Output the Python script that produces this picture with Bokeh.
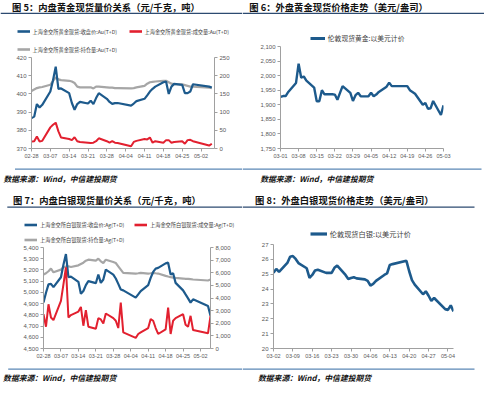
import pandas as pd
from bokeh.plotting import figure
from bokeh.models import (Range1d, LinearAxis, FixedTicker, SingleIntervalTicker,
                          DatetimeTickFormatter, NumeralTickFormatter, Legend,
                          LegendItem, Label, BoxAnnotation)
from bokeh.layouts import column, row
from bokeh.embed import file_html
from bokeh.resources import INLINE

# ---------------- data ----------------
dates_cn = ["2022-02-28", "2022-03-01", "2022-03-02", "2022-03-03", "2022-03-04",
            "2022-03-07", "2022-03-08", "2022-03-09", "2022-03-10", "2022-03-11",
            "2022-03-14", "2022-03-15", "2022-03-16", "2022-03-17", "2022-03-18",
            "2022-03-21", "2022-03-22", "2022-03-23", "2022-03-24", "2022-03-25",
            "2022-03-28", "2022-03-29", "2022-03-30", "2022-03-31", "2022-04-01",
            "2022-04-06", "2022-04-07", "2022-04-08",
            "2022-04-11", "2022-04-12", "2022-04-13", "2022-04-14", "2022-04-15",
            "2022-04-18", "2022-04-19", "2022-04-20", "2022-04-21", "2022-04-22",
            "2022-04-25", "2022-04-26", "2022-04-27", "2022-04-28", "2022-04-29",
            "2022-05-05", "2022-05-06"]

au_close = [386.7, 387.5, 394.4, 392.5, 394.0,
            401.3, 407.5, 415.0, 402.8, 403.0,
            400.4, 395.0, 391.3, 394.4, 395.6,
            394.7, 396.3, 394.4, 397.7, 400.4,
            397.3, 395.6, 394.5, 394.9, 395.0,
            393.6, 394.7, 396.0,
            397.3, 399.2, 401.3, 402.8, 404.0,
            406.4, 406.8, 400.0, 404.0, 405.5,
            405.0, 400.4, 400.4, 401.3, 405.3,
            404.0, 403.5]
au_volume = [19, 20, 33, 19, 21,
             58, 65, 71, 47, 30,
             26, 23, 31, 20, 18,
             16, 15, 16, 20, 28,
             20, 16, 20, 16, 15,
             6, 18, 21,
             26, 25, 30, 16, 20,
             16, 23, 23, 16, 18,
             20, 13, 23, 24, 20,
             8, 13]
au_hold = [158, 162, 166, 168, 169,
           175, 186, 195, 190, 188,
           186, 184, 180, 170, 168,
           168, 168, 165, 170, 170,
           168, 167, 167, 166, 166,
           165, 166, 168,
           172, 178, 182, 183, 184,
           186, 186, 182, 178, 177,
           176, 174, 172, 170, 170,
           167, 166]

ag_close = [4909, 4997, 5071, 5076, 5047,
            5135, 5247, 5341, 5135, 5141,
            5094, 4988, 5012, 5065, 5100,
            5082, 5159, 5085, 5115, 5203,
            5159, 5124, 5076, 5026, 5018,
            4953, 4982, 5012,
            5065, 5129, 5182, 5212, 5218,
            5259, 5265, 5159, 5171, 5085,
            5018, 4982, 4947, 4909, 4938,
            4879, 4791]
ag_volume = [2719, 1725, 3503, 2458, 2248,
             3765, 5072, 6431, 2458, 2650,
             2928, 3294, 1804, 3033, 1725,
             1569, 2405, 2300, 1987, 2771,
             2405, 2196, 1621, 3634, 1281,
             837, 1150, 1281,
             1621, 2327, 2196, 1621, 1150,
             1516, 3242, 1150, 2196, 2405,
             2719, 1882, 1725, 2588, 1464,
             1203, 2588]
ag_hold = [5856, 5960, 6118, 6327, 6039,
           6248, 6431, 6484, 6510, 6458,
           6588, 6693, 6797, 6954, 7033,
           6954, 7111, 6902, 6771, 7033,
           6850, 6771, 6510, 6248, 5987,
           5935, 5960, 5987,
           5935, 5960, 5987, 5960, 5935,
           5752, 5699, 5647, 5621, 5595,
           5542, 5516, 5516, 5490, 5464,
           5386, 5464]

dates_lon_au = ["2022-03-01", "2022-03-02", "2022-03-03", "2022-03-04",
                "2022-03-07", "2022-03-08", "2022-03-09", "2022-03-10", "2022-03-11",
                "2022-03-14", "2022-03-15", "2022-03-16", "2022-03-17", "2022-03-18",
                "2022-03-21", "2022-03-22", "2022-03-23", "2022-03-24", "2022-03-25",
                "2022-03-28", "2022-03-29", "2022-03-30", "2022-03-31", "2022-04-01",
                "2022-04-04", "2022-04-05", "2022-04-06", "2022-04-07", "2022-04-08",
                "2022-04-11", "2022-04-12", "2022-04-13", "2022-04-14",
                "2022-04-19", "2022-04-20", "2022-04-21", "2022-04-22",
                "2022-04-25", "2022-04-26", "2022-04-27", "2022-04-28", "2022-04-29",
                "2022-05-02", "2022-05-03"]
lon_gold = [1927, 1930, 1930, 1944,
            1975, 2041, 1993, 1997, 1983,
            1959, 1912, 1912, 1950, 1936,
            1936, 1935, 1917, 1941, 1964,
            1941, 1913, 1933, 1941, 1929,
            1929, 1941, 1929, 1935, 1944,
            1962, 1976, 1964, 1964,
            1964, 1950, 1944, 1938,
            1900, 1906, 1886, 1888, 1913,
            1865, 1898]

dates_lon_ag = ["2022-03-02", "2022-03-03", "2022-03-04",
                "2022-03-07", "2022-03-08", "2022-03-09", "2022-03-10", "2022-03-11",
                "2022-03-14", "2022-03-15", "2022-03-16", "2022-03-17", "2022-03-18",
                "2022-03-21", "2022-03-22", "2022-03-23", "2022-03-24", "2022-03-25",
                "2022-03-28", "2022-03-29", "2022-03-30", "2022-03-31", "2022-04-01",
                "2022-04-04", "2022-04-05", "2022-04-06", "2022-04-07", "2022-04-08",
                "2022-04-11", "2022-04-12", "2022-04-13", "2022-04-14",
                "2022-04-19", "2022-04-20", "2022-04-21", "2022-04-22",
                "2022-04-25", "2022-04-26", "2022-04-27", "2022-04-28", "2022-04-29",
                "2022-05-03", "2022-05-04", "2022-05-05", "2022-05-06"]
lon_silver = [25.09, 25.36, 25.15,
              25.76, 26.17, 26.22, 26.03, 25.75,
              25.40, 24.75, 24.95, 25.25, 25.30,
              25.09, 25.10, 25.09, 25.43, 25.58,
              24.95, 24.68, 24.75, 24.80, 24.72,
              24.65, 24.55, 24.24, 24.35, 24.55,
              24.95, 25.05, 25.62, 25.68,
              25.90, 25.20, 24.60, 24.30,
              23.65, 23.85, 23.55, 23.20, 23.40,
              22.65, 22.60, 22.90, 22.50]

ticks_tl = ["2022-02-28", "2022-03-07", "2022-03-14", "2022-03-21", "2022-03-28",
            "2022-04-04", "2022-04-11", "2022-04-18", "2022-04-25", "2022-05-02"]
ticks_tr = ["2022-03-01", "2022-03-08", "2022-03-15", "2022-03-22", "2022-03-29",
            "2022-04-05", "2022-04-12", "2022-04-19", "2022-04-26", "2022-05-03"]
ticks_bl = ticks_tl
ticks_br = ["2022-03-02", "2022-03-09", "2022-03-16", "2022-03-23", "2022-03-30",
            "2022-04-06", "2022-04-13", "2022-04-20", "2022-04-27", "2022-05-04"]

titles = ["图 5：内盘黄金现货量价关系（元/千克，吨）",
          "图 6：外盘黄金现货价格走势（美元/盎司）",
          "图 7：内盘白银现货量价关系（元/千克，吨）",
          "图 8：外盘白银现货价格走势（美元/盎司）"]
source_text = "数据来源：Wind，中信建投期货"
lg_au = ["上海金交所黄金现货:收盘价:Au(T+D)", "上海金交所黄金现货:成交量:Au(T+D)",
         "上海金交所黄金现货:持仓量:Au(T+D)"]
lg_ag = ["上海金交所白银现货:收盘价:Ag(T+D)", "上海金交所白银现货:成交量:Ag(T+D)",
         "上海金交所白银现货:持仓量:Ag(T+D)"]
lg_lon_au = "伦敦现货黄金:以美元计价"
lg_lon_ag = "伦敦现货白银:以美元计价"

# ---------------- style ----------------
CJK = "Noto Sans CJK SC"
NUM = "Liberation Sans"
BLUE = "#1d5a8c"
RED = "#e2202f"
GRAY = "#a6a6a6"
TITLE_LINE = "#2c4a70"
SRC_LINE = "#5b87b6"
W = 242


def ms(lst):
    return [pd.Timestamp(s).value // 10**6 for s in lst]


def deco_fig(w, h):
    f = figure(width=w, height=h, x_range=Range1d(0, w), y_range=Range1d(0, h),
               x_axis_type=None, y_axis_type=None, toolbar_location=None,
               output_backend="svg", outline_line_color=None, frame_align=False,
               min_border_left=0, min_border_right=0, min_border_top=0, min_border_bottom=0)
    return f


def header(h, text, tx, ty, ly, lx0, lx1):
    f = deco_fig(W, h)
    f.add_layout(Label(x=tx, y=h - ty, text=text, text_baseline="middle",
                       text_font=CJK, text_font_style="bold", text_font_size="9.3px",
                       text_color="#111111"))
    f.add_layout(BoxAnnotation(left=lx0, right=lx1, top=h - ly, bottom=h - ly - 1.3,
                               fill_color=TITLE_LINE, fill_alpha=1, line_color=None))
    return f


def footer(h, tx, ty, ly, lx0, lx1):
    f = deco_fig(W, h)
    f.add_layout(BoxAnnotation(left=lx0, right=lx1, top=h - ly, bottom=h - ly - 1.3,
                               fill_color=SRC_LINE, fill_alpha=1, line_color=None))
    f.add_layout(Label(x=tx, y=h - ty, text=source_text, text_baseline="middle",
                       text_font=CJK, text_font_style="bold italic", text_font_size="7.8px",
                       text_color="#111111"))
    return f


def legend_fig(h, entries, vx, vy, fs, gw, lh, lw, ncols, spacing):
    # entries: (label, color, width); the glyph samples sit outside the visible range
    f = deco_fig(W, h)
    items = []
    for lab, col, lwid in entries:
        r = f.line(x=[-50, -40], y=[-50, -50], line_color=col, line_width=lwid)
        items.append(LegendItem(label=lab, renderers=[r]))
    lg = Legend(items=items, location=(vx, vy), orientation="horizontal", ncols=ncols,
                label_text_font=CJK, label_text_font_size=fs, label_text_color="#404040",
                glyph_width=gw, glyph_height=lh, label_height=lh, label_width=lw,
                label_standoff=3, spacing=spacing, padding=0, margin=0,
                background_fill_alpha=0, border_line_alpha=0)
    f.add_layout(lg, "center")
    return f


def style_axis(ax, fmt=None):
    ax.axis_line_color = "#a0a0a0"
    ax.major_tick_line_color = "#a0a0a0"
    ax.major_tick_out = 3
    ax.major_tick_in = 0
    ax.minor_tick_line_color = None
    ax.major_label_text_font = NUM
    ax.major_label_text_font_size = "6px"
    ax.major_label_text_color = "#595959"
    ax.major_label_standoff = 2
    if fmt is not None:
        ax.formatter = fmt


def chart(h, x0, x1, y0, y1, yint, xticks, bl, br, bt, bb, yfmt="0"):
    p = figure(width=W, height=h, x_axis_type="datetime",
               x_range=Range1d(pd.Timestamp(x0), pd.Timestamp(x1)),
               y_range=Range1d(y0, y1), toolbar_location=None, output_backend="svg",
               frame_align=False,
               min_border_left=bl, min_border_right=br, min_border_top=bt,
               min_border_bottom=bb)
    p.outline_line_color = None
    p.xgrid.visible = False
    p.ygrid.visible = False
    p.xaxis.ticker = FixedTicker(ticks=ms(xticks))
    style_axis(p.xaxis[0], DatetimeTickFormatter(days="%m-%d", months="%m-%d",
                                                 years="%m-%d", hours="%m-%d"))
    p.xaxis.major_label_text_font_size = "5.5px"
    p.yaxis.ticker = SingleIntervalTicker(interval=yint, num_minor_ticks=0)
    style_axis(p.yaxis[0], NumeralTickFormatter(format=yfmt))
    return p


dcn = pd.to_datetime(dates_cn)

# ---------------- top-left ----------------
p1 = chart(112, "2022-02-28", "2022-05-07", 370, 420, 10, ticks_tl, 31, 28, 3, 18)
p1.extra_y_ranges = {"r": Range1d(0, 250)}
ax = LinearAxis(y_range_name="r", ticker=SingleIntervalTicker(interval=50, num_minor_ticks=0))
style_axis(ax, NumeralTickFormatter(format="0"))
p1.add_layout(ax, "right")
p1.line(dcn, au_hold, y_range_name="r", line_color=GRAY, line_width=2.2)
p1.line(dcn, au_close, line_color=BLUE, line_width=2.2)
p1.line(dcn, au_volume, y_range_name="r", line_color=RED, line_width=2)
l1 = legend_fig(39, [(lg_au[0], BLUE, 2.6), (lg_au[1], RED, 2.6), (lg_au[2], GRAY, 2.6)],
                16.5, 0, "5.2px", 13, 10, 88, 2, 8)

# ---------------- top-right ----------------
p2 = chart(123, "2022-03-01", "2022-05-03", 1750, 2100, 50, ticks_tr, 38, 41, 3, 18, "0,0")
p2.line(pd.to_datetime(dates_lon_au), lon_gold, line_color=BLUE, line_width=2.4)
l2 = legend_fig(28, [(lg_lon_au, BLUE, 3)], 67.8, 0, "6.8px", 15, 10, 60, 1, 0)

# ---------------- bottom-left ----------------
p3 = chart(118, "2022-02-28", "2022-05-06", 4500, 5400, 100, ticks_bl, 43, 32, 3, 14, "0,0")
p3.extra_y_ranges = {"r": Range1d(0, 8000)}
ax3 = LinearAxis(y_range_name="r", ticker=SingleIntervalTicker(interval=1000, num_minor_ticks=0))
style_axis(ax3, NumeralTickFormatter(format="0,0"))
p3.add_layout(ax3, "right")
p3.line(dcn, ag_hold, y_range_name="r", line_color=GRAY, line_width=2.2)
p3.line(dcn, ag_close, line_color=BLUE, line_width=2.2)
p3.line(dcn, ag_volume, y_range_name="r", line_color=RED, line_width=2)
l3 = legend_fig(35, [(lg_ag[0], BLUE, 2.6), (lg_ag[1], RED, 2.6), (lg_ag[2], GRAY, 2.6)],
                24, 0, "5.2px", 13, 9, 88, 2, 6)

# ---------------- bottom-right ----------------
p4 = chart(121, "2022-03-02", "2022-05-06", 20, 27, 1, ticks_br, 31, 31, 3, 14)
p4.line(pd.to_datetime(dates_lon_ag), lon_silver, line_color=BLUE, line_width=2.6)
l4 = legend_fig(32, [(lg_lon_ag, BLUE, 3.2)], 67.8, 2, "7.2px", 17, 11, 60, 1, 0)

# ---------------- decorations ----------------
h1 = header(15, titles[0], 11.5, 6.5, 12.3, 0, 242)
h2 = header(15, titles[1], 6.8, 6.5, 12.3, 0, 242)
h3 = header(19, titles[2], 12.5, 9, 16, 6.8, 242)
h4 = header(19, titles[3], 12.5, 9, 16, 0, 232)
f1 = footer(24, 3, 11.5, 2, 14.5, 242)
f2 = footer(24, 17.7, 11.5, 2, 0, 239)
f3 = footer(20, 2.6, 14.5, 6, 7.7, 242)
f4 = footer(20, 15.5, 14.5, 6, 0, 232)

layout = column(row(column(h1, l1, p1, f1), column(h2, l2, p2, f2)),
                row(column(h3, l3, p3, f3), column(h4, l4, p4, f4)))

open("out.html", "w").write(file_html(layout, INLINE))
